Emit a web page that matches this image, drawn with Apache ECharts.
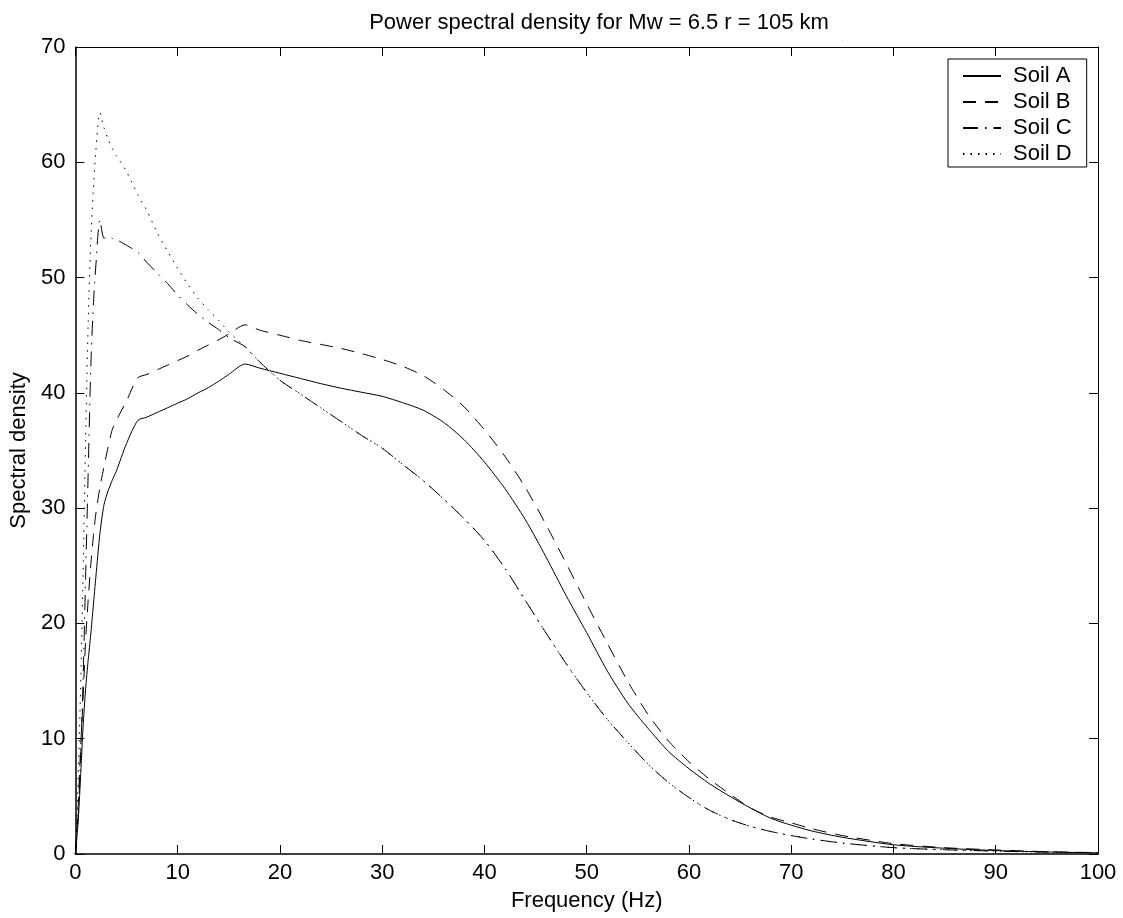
<!DOCTYPE html>
<html>
<head>
<meta charset="utf-8">
<script src="https://cdn.jsdelivr.net/npm/echarts@6/dist/echarts.min.js"></script>
<style>
html,body{margin:0;padding:0;background:#fff;}
#chart{width:1123px;height:918px;}
</style>
</head>
<body>
<div id="chart"></div>
<script>
// Frequency samples (Hz)
var freq = [0, 0.25, 0.5, 0.75, 1, 1.25, 1.5, 1.75, 2, 2.4, 2.8, 3.2, 3.6, 4, 5, 6.1, 7, 8, 9, 10, 11, 12, 13, 14, 15, 16.6, 18, 20, 22, 24, 26, 28, 30, 32, 34, 36, 38, 40, 42, 44, 46, 48, 50, 52, 54, 56, 58, 60, 62, 64, 66, 68, 70, 72, 75, 80, 85, 90, 95, 100];

var soilA = [0, 2.5, 6.5, 11, 14.3, 16.8, 19, 21.5, 24, 27.8, 30.3, 31.5, 32.4, 33.2, 35.6, 37.6, 37.9, 38.3, 38.7, 39.1, 39.5, 40.0, 40.45, 41.0, 41.6, 42.5, 42.15, 41.7, 41.25, 40.8, 40.4, 40.05, 39.7, 39.15, 38.5, 37.45, 35.95, 34.0, 31.7, 29.0, 25.8, 22.4, 19.2, 15.9, 13.1, 10.9, 8.9, 7.4, 6.1, 5.0, 4.0, 3.1, 2.5, 2.0, 1.45, 0.8, 0.5, 0.3, 0.18, 0.1];

var soilB = [0, 3.7, 9, 13.4, 18.5, 22, 25, 27.5, 29.5, 31.8, 33.6, 35.3, 36.8, 37.6, 39.3, 41.3, 41.6, 42.0, 42.4, 42.8, 43.2, 43.7, 44.15, 44.6, 45.1, 45.9, 45.45, 45.0, 44.55, 44.2, 43.85, 43.4, 42.9, 42.3, 41.5, 40.3, 38.8, 36.8, 34.5, 31.8, 28.6, 25.2, 21.7, 18.3, 15.0, 12.1, 9.8, 8.0, 6.5, 5.2, 4.0, 3.2, 2.7, 2.2, 1.6, 0.9, 0.55, 0.35, 0.2, 0.12];

var soilC = [0, 3, 8, 15, 24, 33, 42, 47.5, 51, 55, 53.4, 53.6, 53.4, 53.3, 52.8, 52.2, 51.3, 50.4, 49.5, 48.5, 47.6, 46.8, 46.1, 45.5, 44.8, 44.0, 42.7, 41.1, 39.9, 38.7, 37.5, 36.3, 35.2, 33.8, 32.4, 30.8, 29.1, 27.2, 24.8, 22.0, 19.2, 16.5, 14.0, 11.7, 9.7, 7.8, 6.2, 4.9, 3.8, 3.0, 2.4, 1.95, 1.6, 1.3, 0.95, 0.55, 0.37, 0.25, 0.16, 0.1];

var soilD = [0, 6, 14, 24, 36, 46, 53, 57.5, 61, 64.3, 63, 62.0, 61.2, 60.6, 59.2, 57.2, 55.8, 53.9, 52.3, 50.8, 49.4, 48.2, 47.2, 46.3, 45.3, 44.0, 42.7, 41.1, 39.9, 38.7, 37.5, 36.3, 35.2, 33.8, 32.4, 30.8, 29.1, 27.2, 24.8, 22.0, 19.2, 16.5, 14.0, 11.7, 9.7, 7.8, 6.2, 4.9, 3.8, 3.0, 2.4, 1.95, 1.6, 1.3, 0.95, 0.55, 0.37, 0.25, 0.16, 0.1];

var seriesNames = ['Soil A', 'Soil B', 'Soil C', 'Soil D'];
var xTicks = [0, 10, 20, 30, 40, 50, 60, 70, 80, 90, 100];
var yTicks = [0, 10, 20, 30, 40, 50, 60, 70];

var FONT = "'Liberation Sans', Arial, Helvetica, sans-serif";

function pairs(vals) {
  return freq.map(function (f, i) { return [f, vals[i]]; });
}

var dashes = ['solid', [13, 9], [15, 7, 1.5, 7], [1.5, 6]];
var allVals = [soilA, soilB, soilC, soilD];

var chart = echarts.init(document.getElementById('chart'), null, {renderer: 'canvas'});

function axLine(w) { return {show: true, onZero: false, lineStyle: {color: '#000', width: w}}; }
var tickStyle = {show: true, inside: true, length: 9, lineStyle: {color: '#000', width: 1}};

var option = {
  backgroundColor: '#fff',
  animation: false,
  title: {
    text: 'Power spectral density for Mw = 6.5 r = 105 km',
    left: 594,
    textAlign: 'center',
    top: 7,
    textStyle: {fontFamily: FONT, fontSize: 22, fontWeight: 'normal', color: '#000'}
  },
  legend: {
    data: seriesNames,
    orient: 'vertical',
    left: 948,
    top: 59,
    padding: [6, 15, 2, 14],
    itemGap: 4,
    itemWidth: 38,
    itemHeight: 14,
    borderColor: '#000',
    borderWidth: 1,
    backgroundColor: '#fff',
    itemStyle: {opacity: 0},
    textStyle: {fontFamily: FONT, fontSize: 22, color: '#000', padding: [0, 0, 0, 7], lineHeight: 22}
  },
  grid: {left: 73, right: 25, top: 47, bottom: 64, containLabel: false},
  xAxis: [
    {
      type: 'value', min: 0, max: 100, interval: 10, position: 'bottom',
      name: 'Frequency (Hz)', nameLocation: 'middle', nameGap: 36,
      nameTextStyle: {fontFamily: FONT, fontSize: 22, color: '#000'},
      axisLine: axLine(1.5), axisTick: tickStyle, splitLine: {show: false},
      axisLabel: {margin: 8, fontFamily: FONT, fontSize: 22, color: '#000',
        formatter: function (v) { return xTicks.indexOf(v) >= 0 ? String(v) : ''; }}
    },
    {
      type: 'value', min: 0, max: 100, interval: 10, position: 'top',
      axisLine: axLine(1), axisTick: tickStyle, splitLine: {show: false},
      axisLabel: {show: false}
    }
  ],
  yAxis: [
    {
      type: 'value', min: 0, max: 70, interval: 10, position: 'left',
      name: 'Spectral density', nameLocation: 'middle', nameGap: 40, nameRotate: 90,
      nameTextStyle: {fontFamily: FONT, fontSize: 22, color: '#000'},
      axisLine: axLine(1.5), axisTick: tickStyle, splitLine: {show: false},
      axisLabel: {margin: 10, fontFamily: FONT, fontSize: 22, color: '#000',
        formatter: function (v) { return yTicks.indexOf(v) >= 0 ? String(v) : ''; }}
    },
    {
      type: 'value', min: 0, max: 70, interval: 10, position: 'right',
      axisLine: axLine(1), axisTick: tickStyle, splitLine: {show: false},
      axisLabel: {show: false}
    }
  ],
  series: seriesNames.map(function (name, i) {
    return {
      name: name,
      type: 'line',
      xAxisIndex: 0,
      yAxisIndex: 0,
      data: pairs(allVals[i]),
      showSymbol: false,
      symbol: 'none',
      smooth: 0.25,
      lineStyle: {color: '#000', width: 1, type: dashes[i]},
      itemStyle: {color: '#000'},
      z: 4 - i
    };
  })
};

chart.setOption(option);
</script>
</body>
</html>
